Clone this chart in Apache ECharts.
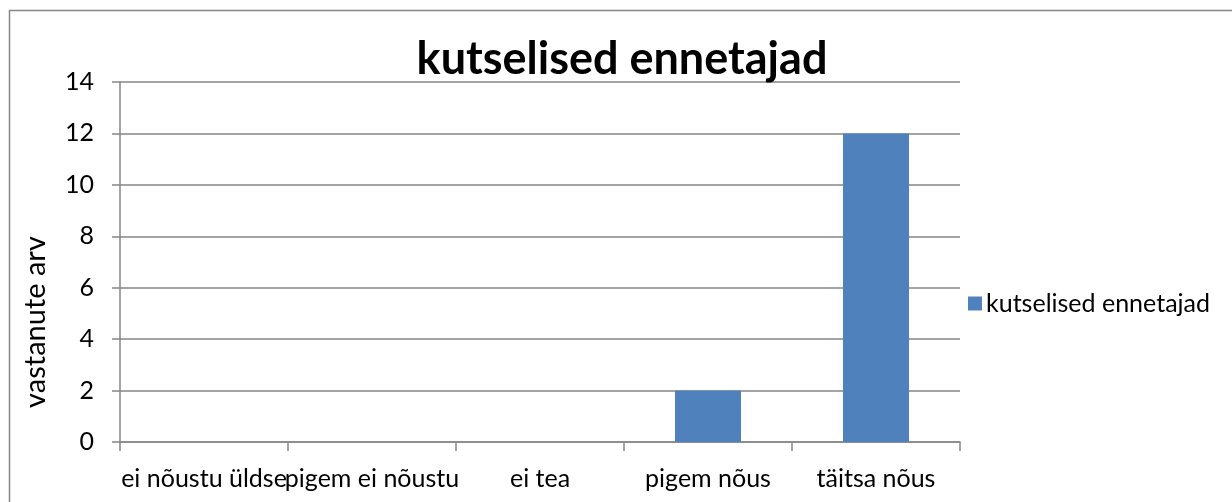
<!DOCTYPE html>
<html>
<head>
<meta charset="utf-8">
<script src="https://cdn.jsdelivr.net/npm/echarts@6/dist/echarts.min.js"></script>
<style>
html,body{margin:0;padding:0;background:#fff;}
#chart{width:1232px;height:502px;}
</style>
</head>
<body>
<div id="chart"></div>
<script>
const categories = ['ei nõustu üldse', 'pigem ei nõustu', 'ei tea', 'pigem nõus', 'täitsa nõus'];
const seriesName = 'kutselised ennetajad';
const values = [0, 0, 0, 2, 12];
const titleText = 'kutselised ennetajad';
const yAxisTitle = 'vastanute arv';

const FONT = 'Lato, "Open Sans", sans-serif';
const chart = echarts.init(document.getElementById('chart'), null, {renderer: 'canvas'});
chart.setOption({
  backgroundColor: '#ffffff',
  animation: false,
  title: {
    text: titleText,
    left: 617, top: 32, textAlign: 'center',
    textStyle: {fontFamily: FONT, fontWeight: 'bold', fontSize: 45, color: '#000'}
  },
  legend: {
    left: 963, top: 286,
    itemWidth: 14, itemHeight: 14, itemGap: 0,
    icon: 'rect',
    textStyle: {fontFamily: FONT, fontSize: 25, color: '#000', padding: [0,0,0,-1]},
    data: [seriesName]
  },
  grid: {left: 120, right: 272, top: 82, bottom: 60, containLabel: false},
  xAxis: {
    type: 'category',
    data: categories,
    boundaryGap: true,
    axisLine: {lineStyle: {color: '#868686', width: 1.5}},
    axisTick: {show: true, length: 9, alignWithLabel: false, lineStyle: {color: '#868686', width: 1.5}},
    axisLabel: {interval: 0, fontFamily: FONT, fontSize: 25, color: '#000', margin: 24}
  },
  yAxis: {
    type: 'value',
    min: 0, max: 14, interval: 2,
    axisLine: {show: true, lineStyle: {color: '#868686', width: 1.5}},
    axisTick: {show: true, length: 8, inside: false, lineStyle: {color: '#868686', width: 1.5}},
    axisLabel: {fontFamily: FONT, fontSize: 25, color: '#000', margin: 26},
    splitLine: {lineStyle: {color: '#868686', width: 1.5}}
  },
  graphic: [
    {type: 'rect', shape: {x: 9.5, y: 10.5, width: 1300, height: 600}, style: {fill: 'none', stroke: '#878787', lineWidth: 1.5}, silent: true, z: -1},
    {type: 'text', x: 36, y: 322, rotation: Math.PI/2, style: {text: yAxisTitle, fontFamily: FONT, fontSize: 29, fill: '#000', textAlign: 'center', textVerticalAlign: 'middle'}}
  ],
  series: [{
    name: seriesName,
    type: 'bar',
    data: values,
    barWidth: 66,
    itemStyle: {color: '#4f81bd'}
  }]
});
</script>
</body>
</html>
